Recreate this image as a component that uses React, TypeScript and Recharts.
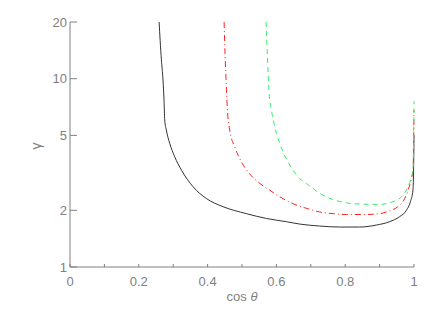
import { LineChart, Line, XAxis, YAxis, Label } from 'recharts';

// black solid curve
const blackX = [0.259, 0.262, 0.2657, 0.2703, 0.2733, 0.2753, 0.28, 0.2898, 0.3044, 0.324, 0.3576, 0.3965, 0.445, 0.5128, 0.571, 0.629, 0.668, 0.726, 0.784, 0.842, 0.8907, 0.929, 0.958, 0.978, 0.9895, 0.997, 0.999, 1.0];
const blackG = [20, 16, 12.6, 9.85, 7.71, 6.04, 5.34, 4.54, 3.85, 3.27, 2.67, 2.31, 2.09, 1.92, 1.81, 1.74, 1.69, 1.65, 1.63, 1.63, 1.67, 1.74, 1.85, 2.0, 2.22, 2.56, 3.5, 5.0];

// red dash-dot curve
const redX = [0.448, 0.451, 0.455, 0.4576, 0.4642, 0.4788, 0.498, 0.5174, 0.5465, 0.5805, 0.6096, 0.648, 0.687, 0.726, 0.765, 0.8035, 0.862, 0.9, 0.929, 0.953, 0.973, 0.983, 0.9924, 0.997, 0.999, 1.0];
const redG = [20, 13, 8.72, 6.82, 5.34, 4.35, 3.62, 3.2, 2.83, 2.56, 2.36, 2.17, 2.05, 1.96, 1.92, 1.9, 1.9, 1.92, 1.99, 2.09, 2.31, 2.56, 2.95, 3.27, 4.5, 6.8];

// green dashed curve
const greenX = [0.57, 0.574, 0.5785, 0.5855, 0.593, 0.6, 0.6096, 0.619, 0.6337, 0.648, 0.6677, 0.687, 0.726, 0.765, 0.8035, 0.842, 0.9, 0.939, 0.968, 0.983, 0.9924, 0.997, 0.999, 1.0];
const greenG = [20, 13, 8.54, 6.82, 5.8, 5.13, 4.54, 4.09, 3.62, 3.27, 2.95, 2.78, 2.46, 2.28, 2.19, 2.16, 2.15, 2.22, 2.41, 2.67, 3.01, 3.27, 5, 7.6];

const xTicks = [0, 0.1, 0.2, 0.3, 0.4, 0.5, 0.6, 0.7, 0.8, 0.9, 1.0];
const yTicks = [1, 2, 5, 10, 20];

const toPoints = (xs: number[], gs: number[]) => xs.map((x, i) => ({ x, g: gs[i] }));

const axisColor = '#808080';
const tickFont = { fill: axisColor, fontSize: 13, fontFamily: 'Liberation Sans, Arial, sans-serif' };

const fmtX = (v: number) => {
  const k = Math.round(v * 10);
  if (k % 2 !== 0) return '';
  if (k === 0) return '0';
  if (k === 10) return '1';
  return (k / 10).toFixed(1);
};

export default function App() {
  const black = toPoints(blackX, blackG);
  const red = toPoints(redX, redG);
  const green = toPoints(greenX, greenG);

  return (
    <div style={{ position: 'absolute', left: 0, top: 0, width: 436, height: 312, background: '#fff' }}>
      <LineChart width={436} height={312} margin={{ top: 22, right: 22, bottom: 0, left: 0 }}>
        <XAxis
          xAxisId="b"
          dataKey="x"
          type="number"
          domain={[0, 1]}
          ticks={xTicks}
          tickFormatter={fmtX}
          interval={0}
          height={45}
          tickSize={-3}
          tickMargin={13}
          stroke={axisColor}
          tick={tickFont}
        >
          <Label
            content={() => (
              <text x={242} y={301} textAnchor="middle" fill={axisColor} fontSize={13} fontFamily="Liberation Sans, Arial, sans-serif">
                cos <tspan fontStyle="italic">θ</tspan>
              </text>
            )}
          />
        </XAxis>
        <XAxis
          xAxisId="t"
          orientation="top"
          dataKey="x"
          type="number"
          domain={[0, 1]}
          ticks={xTicks}
          tickFormatter={() => ''}
          interval={0}
          height={0}
          tickSize={-3}
          stroke={axisColor}
        />
        <YAxis
          yAxisId="l"
          dataKey="g"
          scale="log"
          type="number"
          domain={[1, 20]}
          allowDataOverflow
          ticks={yTicks}
          interval={0}
          width={70}
          tickSize={-7}
          tickMargin={10}
          stroke={axisColor}
          tick={tickFont}
        >
          <Label
            content={() => (
              <text x={41} y={146} textAnchor="middle" fill={axisColor} fontSize={14} fontFamily="Liberation Sans, Arial, sans-serif" transform="rotate(-90 41 146)">
                γ
              </text>
            )}
          />
        </YAxis>
        <YAxis
          yAxisId="r"
          orientation="right"
          dataKey="g"
          scale="log"
          type="number"
          domain={[1, 20]}
          allowDataOverflow
          ticks={yTicks}
          tickFormatter={() => ''}
          interval={0}
          width={0}
          tickSize={-7}
          stroke={axisColor}
        />
        <Line data={black} xAxisId="b" yAxisId="l" dataKey="g" type="monotone" stroke="#333333" strokeWidth={1} dot={false} isAnimationActive={false} />
        <Line data={red} xAxisId="b" yAxisId="l" dataKey="g" type="monotone" stroke="#ff2020" strokeWidth={1} strokeDasharray="6 3 1 3" dot={false} isAnimationActive={false} />
        <Line data={green} xAxisId="b" yAxisId="l" dataKey="g" type="monotone" stroke="#33ee66" strokeWidth={1} strokeDasharray="5 4" dot={false} isAnimationActive={false} />
      </LineChart>
    </div>
  );
}
